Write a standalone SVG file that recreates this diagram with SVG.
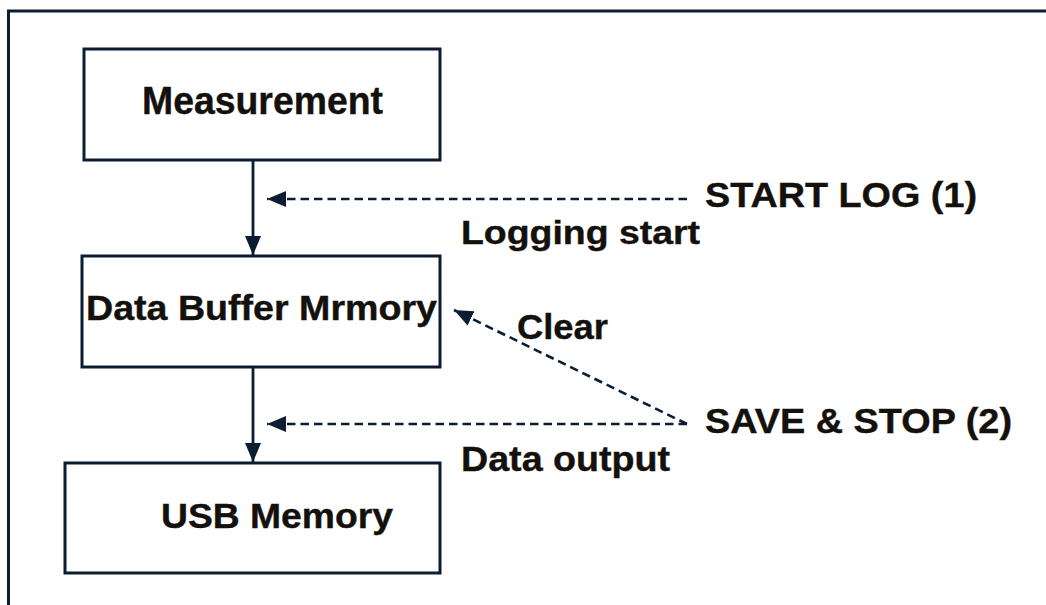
<svg xmlns="http://www.w3.org/2000/svg" width="1046" height="605" viewBox="0 0 1046 605">
<style>
.box{fill:#fff;stroke:#0b1d33;stroke-width:3}
.t{font-family:"Liberation Sans",Arial,sans-serif;font-weight:bold;fill:#14110d;stroke:#14110d;stroke-width:0.4}
.solid{stroke:#0b1d33;stroke-width:2.8;fill:none}
.dash{stroke:#0b1d33;stroke-width:2.6;fill:none;stroke-dasharray:8.5 5}
</style>
<defs>
<marker id="ah" viewBox="0 0 19 16" refX="19" refY="8" markerWidth="19" markerHeight="16" markerUnits="userSpaceOnUse" orient="auto">
<path d="M0,0 L19,8 L0,16 Z" fill="#0b1d33"/>
</marker>
</defs>
<rect x="0" y="0" width="1046" height="605" fill="#fff"/>
<rect id="frame" x="8.5" y="11" width="1060" height="620" fill="none" stroke="#0b1d33" stroke-width="3"/>
<g id="measurement">
<rect class="box" x="84" y="49" width="356" height="111"/>
<text class="t" x="142" y="114" font-size="38" textLength="241" lengthAdjust="spacingAndGlyphs">Measurement</text>
</g>
<g id="buffer">
<rect class="box" x="82" y="256" width="358" height="111"/>
<text class="t" x="86" y="320" font-size="35" textLength="351" lengthAdjust="spacingAndGlyphs">Data Buffer Mrmory</text>
</g>
<g id="usb">
<rect class="box" x="65" y="463" width="375" height="110"/>
<text class="t" x="161" y="528" font-size="35" textLength="232" lengthAdjust="spacingAndGlyphs">USB Memory</text>
</g>
<g id="startlog">
<text class="t" x="705" y="207" font-size="35" textLength="272" lengthAdjust="spacingAndGlyphs">START LOG (1)</text>
</g>
<g id="savestop">
<text class="t" x="705" y="433" font-size="35" textLength="307" lengthAdjust="spacingAndGlyphs">SAVE &amp; STOP (2)</text>
</g>
<g id="connectors">
<line class="solid" x1="253" y1="160" x2="253" y2="255" marker-end="url(#ah)"/>
<line class="solid" x1="253" y1="367" x2="253" y2="462" marker-end="url(#ah)"/>
<line class="dash" x1="687" y1="199" x2="267" y2="199" marker-end="url(#ah)"/>
<line class="dash" x1="687" y1="424" x2="267" y2="424" marker-end="url(#ah)"/>
<line class="dash" x1="687" y1="424" x2="454" y2="310" marker-end="url(#ah)"/>
<text class="t" x="461" y="244" font-size="33" textLength="239" lengthAdjust="spacingAndGlyphs">Logging start</text>
<text class="t" x="517" y="339" font-size="35" textLength="91" lengthAdjust="spacingAndGlyphs">Clear</text>
<text class="t" x="461" y="471" font-size="35" textLength="209" lengthAdjust="spacingAndGlyphs">Data output</text>
</g>
</svg>
